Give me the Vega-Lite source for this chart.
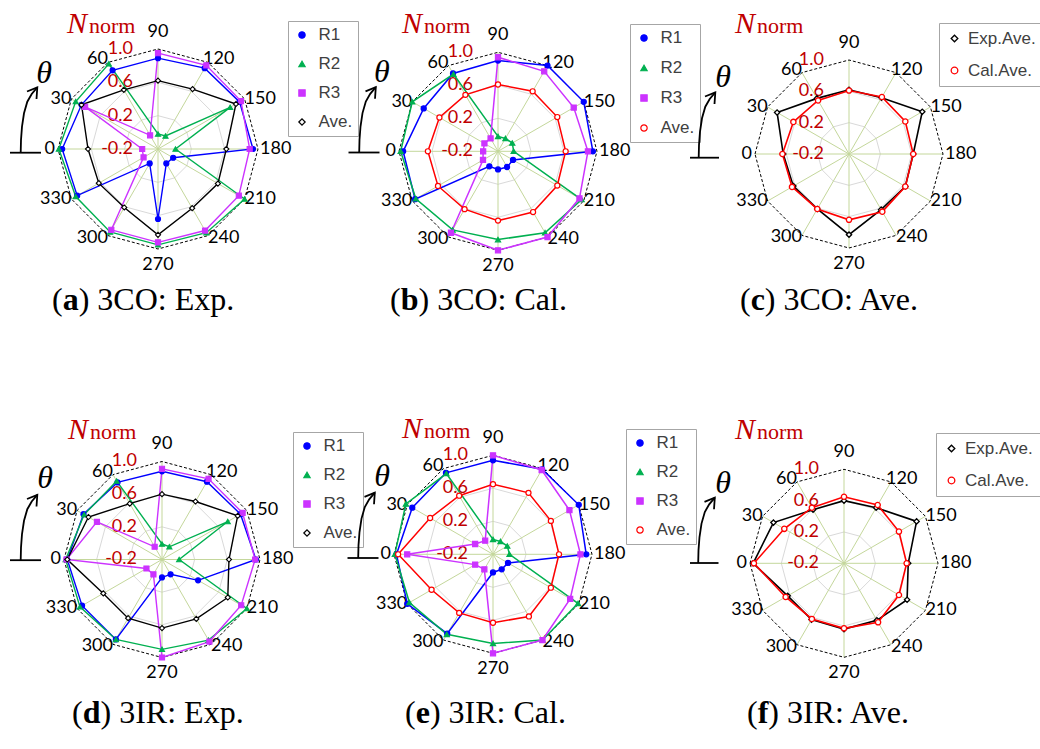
{
"$schema":"https://vega.github.io/schema/vega-lite/v6.json",
"padding":0,
"background":"white",
"config":{"view":{"stroke":null},"legend":{"symbolOpacity":1}},
"datasets":{
"ring":[{"a":0,"v":0.2},{"a":30,"v":0.2},{"a":60,"v":0.2},{"a":90,"v":0.2},{"a":120,"v":0.2},{"a":150,"v":0.2},{"a":180,"v":0.2},{"a":210,"v":0.2},{"a":240,"v":0.2},{"a":270,"v":0.2},{"a":300,"v":0.2},{"a":330,"v":0.2},
{"a":0,"v":0.6},{"a":30,"v":0.6},{"a":60,"v":0.6},{"a":90,"v":0.6},{"a":120,"v":0.6},{"a":150,"v":0.6},{"a":180,"v":0.6},{"a":210,"v":0.6},{"a":240,"v":0.6},{"a":270,"v":0.6},{"a":300,"v":0.6},{"a":330,"v":0.6},
{"a":0,"v":1},{"a":30,"v":1},{"a":60,"v":1},{"a":90,"v":1},{"a":120,"v":1},{"a":150,"v":1},{"a":180,"v":1},{"a":210,"v":1},{"a":240,"v":1},{"a":270,"v":1},{"a":300,"v":1},{"a":330,"v":1}],
"rl":[{"v":-0.2,"t":"-0.2"},{"v":0.2,"t":"0.2"},{"v":0.6,"t":"0.6"},{"v":1.0,"t":"1.0"}],
"arw":[{"g":"b","o":0,"px":-148,"py":-3.7},{"g":"b","o":1,"px":-117,"py":-3.7},
{"g":"c","o":0,"px":-137.3,"py":-3.7},{"g":"c","o":1,"px":-137,"py":9},{"g":"c","o":2,"px":-136,"py":22.3},{"g":"c","o":3,"px":-134,"py":35.7},{"g":"c","o":4,"px":-130.7,"py":47.3},{"g":"c","o":5,"px":-126.3,"py":55},{"g":"c","o":6,"px":-120.7,"py":61.7},
{"g":"h","o":0,"px":-131,"py":57.5},{"g":"h","o":1,"px":-120.7,"py":61.7},{"g":"h","o":2,"px":-121.5,"py":50}],
"pa":[
{"a":0,"s":"R1","v":0.95},{"a":30,"s":"R1","v":0.86},{"a":60,"s":"R1","v":0.89},{"a":90,"s":"R1","v":0.89},{"a":120,"s":"R1","v":0.92},{"a":150,"s":"R1","v":0.93},{"a":180,"s":"R1","v":0.94},{"a":210,"s":"R1","v":0.01},{"a":240,"s":"R1","v":0.0},{"a":270,"s":"R1","v":0.64},{"a":300,"s":"R1","v":0.0},{"a":330,"s":"R1","v":0.92},
{"a":0,"s":"R2","v":0.99},{"a":30,"s":"R2","v":0.94},{"a":60,"s":"R2","v":0.98},{"a":90,"s":"R2","v":-0.02},{"a":120,"s":"R2","v":-0.02},{"a":150,"s":"R2","v":0.80},{"a":180,"s":"R2","v":0.01},{"a":210,"s":"R2","v":1.0},{"a":240,"s":"R2","v":0.96},{"a":270,"s":"R2","v":0.95},{"a":300,"s":"R2","v":0.95},{"a":330,"s":"R2","v":0.94},
{"a":0,"s":"R3","v":-0.01},{"a":30,"s":"R3","v":0.81},{"a":60,"s":"R3","v":-0.01},{"a":90,"s":"R3","v":0.95},{"a":120,"s":"R3","v":0.96},{"a":150,"s":"R3","v":0.95},{"a":180,"s":"R3","v":0.90},{"a":210,"s":"R3","v":0.92},{"a":240,"s":"R3","v":0.93},{"a":270,"s":"R3","v":0.92},{"a":300,"s":"R3","v":0.92},{"a":330,"s":"R3","v":0.0},
{"a":0,"s":"Ave.","v":0.64},{"a":30,"s":"Ave.","v":0.86},{"a":60,"s":"Ave.","v":0.62},{"a":90,"s":"Ave.","v":0.62},{"a":120,"s":"Ave.","v":0.63},{"a":150,"s":"Ave.","v":0.88},{"a":180,"s":"Ave.","v":0.62},{"a":210,"s":"Ave.","v":0.63},{"a":240,"s":"Ave.","v":0.62},{"a":270,"s":"Ave.","v":0.83},{"a":300,"s":"Ave.","v":0.61},{"a":330,"s":"Ave.","v":0.62}],
"pb":[
{"a":0,"s":"R1","v":0.95},{"a":30,"s":"R1","v":0.84},{"a":60,"s":"R1","v":0.89},{"a":90,"s":"R1","v":0.90},{"a":120,"s":"R1","v":1.0},{"a":150,"s":"R1","v":1.0},{"a":180,"s":"R1","v":0.95},{"a":210,"s":"R1","v":0.01},{"a":240,"s":"R1","v":0.02},{"a":270,"s":"R1","v":0.02},{"a":300,"s":"R1","v":0.01},{"a":330,"s":"R1","v":0.96},
{"a":0,"s":"R2","v":0.98},{"a":30,"s":"R2","v":1.0},{"a":60,"s":"R2","v":0.88},{"a":90,"s":"R2","v":-0.02},{"a":120,"s":"R2","v":-0.02},{"a":150,"s":"R2","v":0.0},{"a":180,"s":"R2","v":-0.01},{"a":210,"s":"R2","v":0.97},{"a":240,"s":"R2","v":0.94},{"a":270,"s":"R2","v":0.87},{"a":300,"s":"R2","v":0.90},{"a":330,"s":"R2","v":0.95},
{"a":0,"s":"R3","v":-0.02},{"a":30,"s":"R3","v":-0.01},{"a":60,"s":"R3","v":-0.02},{"a":90,"s":"R3","v":0.94},{"a":120,"s":"R3","v":0.92},{"a":150,"s":"R3","v":0.86},{"a":180,"s":"R3","v":0.89},{"a":210,"s":"R3","v":0.94},{"a":240,"s":"R3","v":1.0},{"a":270,"s":"R3","v":1.0},{"a":300,"s":"R3","v":0.94},{"a":330,"s":"R3","v":0.01},
{"a":0,"s":"Ave.","v":0.65},{"a":30,"s":"Ave.","v":0.62},{"a":60,"s":"Ave.","v":0.59},{"a":90,"s":"Ave.","v":0.61},{"a":120,"s":"Ave.","v":0.64},{"a":150,"s":"Ave.","v":0.63},{"a":180,"s":"Ave.","v":0.62},{"a":210,"s":"Ave.","v":0.63},{"a":240,"s":"Ave.","v":0.65},{"a":270,"s":"Ave.","v":0.64},{"a":300,"s":"Ave.","v":0.61},{"a":330,"s":"Ave.","v":0.64}],
"pc":[
{"a":0,"s":"Exp.Ave.","v":0.64},{"a":30,"s":"Exp.Ave.","v":0.86},{"a":60,"s":"Exp.Ave.","v":0.62},{"a":90,"s":"Exp.Ave.","v":0.62},{"a":120,"s":"Exp.Ave.","v":0.63},{"a":150,"s":"Exp.Ave.","v":0.88},{"a":180,"s":"Exp.Ave.","v":0.62},{"a":210,"s":"Exp.Ave.","v":0.63},{"a":240,"s":"Exp.Ave.","v":0.62},{"a":270,"s":"Exp.Ave.","v":0.83},{"a":300,"s":"Exp.Ave.","v":0.61},{"a":330,"s":"Exp.Ave.","v":0.62},
{"a":0,"s":"Cal.Ave.","v":0.65},{"a":30,"s":"Cal.Ave.","v":0.62},{"a":60,"s":"Cal.Ave.","v":0.59},{"a":90,"s":"Cal.Ave.","v":0.61},{"a":120,"s":"Cal.Ave.","v":0.64},{"a":150,"s":"Cal.Ave.","v":0.63},{"a":180,"s":"Cal.Ave.","v":0.62},{"a":210,"s":"Cal.Ave.","v":0.63},{"a":240,"s":"Cal.Ave.","v":0.65},{"a":270,"s":"Cal.Ave.","v":0.64},{"a":300,"s":"Cal.Ave.","v":0.61},{"a":330,"s":"Cal.Ave.","v":0.64}],
"pd":[
{"a":0,"s":"R1","v":0.96},{"a":30,"s":"R1","v":0.91},{"a":60,"s":"R1","v":0.89},{"a":90,"s":"R1","v":0.88},{"a":120,"s":"R1","v":0.90},{"a":150,"s":"R1","v":0.91},{"a":180,"s":"R1","v":0.95},{"a":210,"s":"R1","v":0.31},{"a":240,"s":"R1","v":0.01},{"a":270,"s":"R1","v":0.02},{"a":300,"s":"R1","v":0.93},{"a":330,"s":"R1","v":0.93},
{"a":0,"s":"R2","v":0.98},{"a":30,"s":"R2","v":0.90},{"a":60,"s":"R2","v":0.91},{"a":90,"s":"R2","v":-0.01},{"a":120,"s":"R2","v":-0.02},{"a":150,"s":"R2","v":0.73},{"a":180,"s":"R2","v":0.01},{"a":210,"s":"R2","v":1.0},{"a":240,"s":"R2","v":0.94},{"a":270,"s":"R2","v":0.90},{"a":300,"s":"R2","v":0.93},{"a":330,"s":"R2","v":0.96},
{"a":0,"s":"R3","v":0.97},{"a":30,"s":"R3","v":0.72},{"a":60,"s":"R3","v":-0.02},{"a":90,"s":"R3","v":0.91},{"a":120,"s":"R3","v":0.94},{"a":150,"s":"R3","v":0.94},{"a":180,"s":"R3","v":0.94},{"a":210,"s":"R3","v":0.92},{"a":240,"s":"R3","v":0.96},{"a":270,"s":"R3","v":1.0},{"a":300,"s":"R3","v":0.01},{"a":330,"s":"R3","v":0.02},
{"a":0,"s":"Ave.","v":0.96},{"a":30,"s":"Ave.","v":0.84},{"a":60,"s":"Ave.","v":0.59},{"a":90,"s":"Ave.","v":0.60},{"a":120,"s":"Ave.","v":0.62},{"a":150,"s":"Ave.","v":0.87},{"a":180,"s":"Ave.","v":0.62},{"a":210,"s":"Ave.","v":0.73},{"a":240,"s":"Ave.","v":0.64},{"a":270,"s":"Ave.","v":0.64},{"a":300,"s":"Ave.","v":0.63},{"a":330,"s":"Ave.","v":0.63}],
"pe":[
{"a":0,"s":"R1","v":0.97},{"a":30,"s":"R1","v":0.93},{"a":60,"s":"R1","v":0.94},{"a":90,"s":"R1","v":0.94},{"a":120,"s":"R1","v":0.99},{"a":150,"s":"R1","v":1.0},{"a":180,"s":"R1","v":0.93},{"a":210,"s":"R1","v":0.01},{"a":240,"s":"R1","v":0.01},{"a":270,"s":"R1","v":0.02},{"a":300,"s":"R1","v":0.91},{"a":330,"s":"R1","v":1.0},
{"a":0,"s":"R2","v":0.99},{"a":30,"s":"R2","v":1.02},{"a":60,"s":"R2","v":0.93},{"a":90,"s":"R2","v":-0.02},{"a":120,"s":"R2","v":-0.02},{"a":150,"s":"R2","v":0.0},{"a":180,"s":"R2","v":0.0},{"a":210,"s":"R2","v":0.99},{"a":240,"s":"R2","v":1.0},{"a":270,"s":"R2","v":0.88},{"a":300,"s":"R2","v":0.92},{"a":330,"s":"R2","v":0.97},
{"a":0,"s":"R3","v":0.84},{"a":30,"s":"R3","v":0.05},{"a":60,"s":"R3","v":-0.01},{"a":90,"s":"R3","v":1.0},{"a":120,"s":"R3","v":0.98},{"a":150,"s":"R3","v":0.87},{"a":180,"s":"R3","v":0.86},{"a":210,"s":"R3","v":0.88},{"a":240,"s":"R3","v":1.0},{"a":270,"s":"R3","v":1.0},{"a":300,"s":"R3","v":0.01},{"a":330,"s":"R3","v":0.05},
{"a":0,"s":"Ave.","v":0.95},{"a":30,"s":"Ave.","v":0.68},{"a":60,"s":"Ave.","v":0.62},{"a":90,"s":"Ave.","v":0.65},{"a":120,"s":"Ave.","v":0.66},{"a":150,"s":"Ave.","v":0.61},{"a":180,"s":"Ave.","v":0.60},{"a":210,"s":"Ave.","v":0.61},{"a":240,"s":"Ave.","v":0.67},{"a":270,"s":"Ave.","v":0.63},{"a":300,"s":"Ave.","v":0.62},{"a":330,"s":"Ave.","v":0.66}],
"pf":[
{"a":0,"s":"Exp.Ave.","v":0.96},{"a":30,"s":"Exp.Ave.","v":0.84},{"a":60,"s":"Exp.Ave.","v":0.59},{"a":90,"s":"Exp.Ave.","v":0.60},{"a":120,"s":"Exp.Ave.","v":0.62},{"a":150,"s":"Exp.Ave.","v":0.87},{"a":180,"s":"Exp.Ave.","v":0.62},{"a":210,"s":"Exp.Ave.","v":0.73},{"a":240,"s":"Exp.Ave.","v":0.64},{"a":270,"s":"Exp.Ave.","v":0.64},{"a":300,"s":"Exp.Ave.","v":0.63},{"a":330,"s":"Exp.Ave.","v":0.63},
{"a":0,"s":"Cal.Ave.","v":0.95},{"a":30,"s":"Cal.Ave.","v":0.68},{"a":60,"s":"Cal.Ave.","v":0.62},{"a":90,"s":"Cal.Ave.","v":0.65},{"a":120,"s":"Cal.Ave.","v":0.66},{"a":150,"s":"Cal.Ave.","v":0.61},{"a":180,"s":"Cal.Ave.","v":0.60},{"a":210,"s":"Cal.Ave.","v":0.61},{"a":240,"s":"Cal.Ave.","v":0.67},{"a":270,"s":"Cal.Ave.","v":0.63},{"a":300,"s":"Cal.Ave.","v":0.62},{"a":330,"s":"Cal.Ave.","v":0.66}]
},
"spacing":0,
"resolve":{"scale":{"stroke":"independent","fill":"independent","shape":"independent","color":"independent"},"legend":{"stroke":"independent","fill":"independent","shape":"independent","color":"independent"}},
"vconcat":[
{"hconcat":[
{"width":340,"height":410,
"encoding":{"x":{"field":"x","type":"quantitative","scale":{"domain":[-1.58,1.82],"nice":false,"zero":false},"axis":null},"y":{"field":"y","type":"quantitative","scale":{"domain":[-2.61,1.49],"nice":false,"zero":false},"axis":null}},
"layer":[
{"data":{"name":"ring"},"transform":[{"filter":"datum.v<1"},{"calculate":"(datum.v+0.2)/1.2","as":"r"},{"calculate":"-datum.r*cos(datum.a*PI/180)","as":"x"},{"calculate":"datum.r*sin(datum.a*PI/180)","as":"y"}],"mark":{"type":"line","interpolate":"linear-closed","stroke":"#d9d9d9","strokeWidth":1},"encoding":{"detail":{"field":"v","type":"nominal"},"order":{"field":"a","type":"quantitative"}}},
{"data":{"name":"ring"},"transform":[{"filter":"datum.v==1"},{"calculate":"-cos(datum.a*PI/180)","as":"x"},{"calculate":"sin(datum.a*PI/180)","as":"y"}],"mark":{"type":"rule","stroke":"#c4d79b","strokeWidth":1},"encoding":{"x2":{"datum":0},"y2":{"datum":0}}},
{"data":{"name":"ring"},"transform":[{"filter":"datum.v==1"},{"calculate":"-cos(datum.a*PI/180)","as":"x"},{"calculate":"sin(datum.a*PI/180)","as":"y"}],"mark":{"type":"line","interpolate":"linear-closed","stroke":"#000000","strokeWidth":1,"strokeDash":[3,2]},"encoding":{"order":{"field":"a","type":"quantitative"}}},
{"data":{"name":"ring"},"transform":[{"filter":"datum.v==1"},{"calculate":"-cos(datum.a*PI/180)","as":"x"},{"calculate":"sin(datum.a*PI/180)","as":"y"}],"mark":{"type":"text","font":"Lato","fontSize":18,"color":"#000000","baseline":"middle","align":{"expr":"datum.a==90||datum.a==270?'center':(datum.a<90||datum.a>270?'right':'left')"},"dx":{"expr":"datum.a==0?-3:datum.a==120?-5:datum.a==180?2:0"},"dy":{"expr":"datum.a==90?-17:datum.a==270?16:(datum.a==60||datum.a==120)?-3:(datum.a==240||datum.a==300)?2:0"}},"encoding":{"text":{"field":"a","type":"nominal"}}},
{"data":{"name":"rl"},"transform":[{"calculate":"(datum.v+0.2)/1.2","as":"y"},{"calculate":"0","as":"x"}],"mark":{"type":"text","font":"Lato","fontSize":18,"color":"#c00000","align":"right","baseline":"middle","dx":-25},"encoding":{"text":{"field":"t","type":"nominal"}}},
{"data":{"name":"pa"},"transform":[{"calculate":"(datum.v+0.2)/1.2","as":"r"},{"calculate":"-datum.r*cos(datum.a*PI/180)","as":"x"},{"calculate":"datum.r*sin(datum.a*PI/180)","as":"y"}],"mark":{"type":"line","interpolate":"linear-closed","strokeWidth":1.4},"encoding":{"color":{"field":"s","type":"nominal","scale":{"range":["#000000","#0000ff","#00b050","#cc33ff"]},"legend":null},"order":{"field":"a","type":"quantitative"}}},
{"data":{"name":"pa"},"transform":[{"calculate":"(datum.v+0.2)/1.2","as":"r"},{"calculate":"-datum.r*cos(datum.a*PI/180)","as":"x"},{"calculate":"datum.r*sin(datum.a*PI/180)","as":"y"}],"mark":{"type":"point","opacity":1,"size":26,"strokeWidth":1.1},"encoding":{
"stroke":{"field":"s","type":"nominal","scale":{"domain":["R1","R2","R3","Ave."],"range":["#0000ff","#00b050","#cc33ff","#000000"]},"legend":{"orient":"none","legendX":288,"legendY":21,"direction":"vertical","title":null,"padding":5.5,"rowPadding":11,"symbolSize":40,"symbolStrokeWidth":1.2,"labelFont":"Liberation Sans","labelFontSize":17,"labelColor":"#404040","labelOffset":8,"strokeColor":"#a6a6a6","fillColor":"#ffffff","symbolOpacity":1}},
"fill":{"field":"s","type":"nominal","scale":{"domain":["R1","R2","R3","Ave."],"range":["#0000ff","#00b050","#cc33ff","#ffffff"]},"legend":{"orient":"none","legendX":288,"legendY":21,"direction":"vertical","title":null,"padding":5.5,"rowPadding":11,"symbolSize":40,"symbolStrokeWidth":1.2,"labelFont":"Liberation Sans","labelFontSize":17,"labelColor":"#404040","labelOffset":8,"strokeColor":"#a6a6a6","fillColor":"#ffffff","symbolOpacity":1}},
"shape":{"field":"s","type":"nominal","scale":{"domain":["R1","R2","R3","Ave."],"range":["circle","triangle-up","square","diamond"]},"legend":{"orient":"none","legendX":288,"legendY":21,"direction":"vertical","title":null,"padding":5.5,"rowPadding":11,"symbolSize":40,"symbolStrokeWidth":1.2,"labelFont":"Liberation Sans","labelFontSize":17,"labelColor":"#404040","labelOffset":8,"strokeColor":"#a6a6a6","fillColor":"#ffffff","symbolOpacity":1}}}},
{"data":{"values":[{}]},"transform":[{"calculate":"-0.91","as":"x"},{"calculate":"1.16","as":"y"}],"mark":{"type":"text","text":"N","font":"Liberation Serif","fontStyle":"italic","fontSize":30,"color":"#c00000","align":"left","baseline":"alphabetic"}},
{"data":{"values":[{}]},"transform":[{"calculate":"-0.91","as":"x"},{"calculate":"1.16","as":"y"}],"mark":{"type":"text","text":"norm","font":"Liberation Serif","fontSize":22,"color":"#c00000","align":"left","baseline":"alphabetic","dx":22}},
{"data":{"values":[{}]},"transform":[{"calculate":"-1.14","as":"x"},{"calculate":"0.76","as":"y"}],"mark":{"type":"text","text":"θ","font":"Liberation Serif","fontStyle":"italic","fontSize":32,"color":"#000000","align":"center","baseline":"middle"}},
{"data":{"name":"arw"},"transform":[{"calculate":"datum.px/100","as":"x"},{"calculate":"datum.py/100","as":"y"}],"mark":{"type":"line","stroke":"#000000","strokeWidth":1.8,"clip":true},"encoding":{"detail":{"field":"g","type":"nominal"},"order":{"field":"o","type":"quantitative"}}},
{"data":{"values":[{}]},"transform":[{"calculate":"-1.06","as":"x"},{"calculate":"-1.51","as":"y"}],"mark":{"type":"text","text":"(","font":"Liberation Serif","fontSize":32,"color":"#000000","align":"left","baseline":"middle"}},
{"data":{"values":[{}]},"transform":[{"calculate":"-1.06","as":"x"},{"calculate":"-1.51","as":"y"}],"mark":{"type":"text","text":"a","font":"Liberation Serif","fontWeight":"bold","fontSize":32,"color":"#000000","align":"left","baseline":"middle","dx":10.7}},
{"data":{"values":[{}]},"transform":[{"calculate":"-1.06","as":"x"},{"calculate":"-1.51","as":"y"}],"mark":{"type":"text","text":") 3CO: Exp.","font":"Liberation Serif","fontSize":32,"color":"#000000","align":"left","baseline":"middle","dx":26.7}}
]},
{"width":350,"height":410,
"encoding":{"x":{"field":"x","type":"quantitative","scale":{"domain":[-1.596,1.9394],"nice":false,"zero":false},"axis":null},"y":{"field":"y","type":"quantitative","scale":{"domain":[-2.6131,1.5283],"nice":false,"zero":false},"axis":null}},
"layer":[
{"data":{"name":"ring"},"transform":[{"filter":"datum.v<1"},{"calculate":"(datum.v+0.2)/1.2","as":"r"},{"calculate":"-datum.r*cos(datum.a*PI/180)","as":"x"},{"calculate":"datum.r*sin(datum.a*PI/180)","as":"y"}],"mark":{"type":"line","interpolate":"linear-closed","stroke":"#d9d9d9","strokeWidth":1},"encoding":{"detail":{"field":"v","type":"nominal"},"order":{"field":"a","type":"quantitative"}}},
{"data":{"name":"ring"},"transform":[{"filter":"datum.v==1"},{"calculate":"-cos(datum.a*PI/180)","as":"x"},{"calculate":"sin(datum.a*PI/180)","as":"y"}],"mark":{"type":"rule","stroke":"#c4d79b","strokeWidth":1},"encoding":{"x2":{"datum":0},"y2":{"datum":0}}},
{"data":{"name":"ring"},"transform":[{"filter":"datum.v==1"},{"calculate":"-cos(datum.a*PI/180)","as":"x"},{"calculate":"sin(datum.a*PI/180)","as":"y"}],"mark":{"type":"line","interpolate":"linear-closed","stroke":"#000000","strokeWidth":1,"strokeDash":[3,2]},"encoding":{"order":{"field":"a","type":"quantitative"}}},
{"data":{"name":"ring"},"transform":[{"filter":"datum.v==1"},{"calculate":"-cos(datum.a*PI/180)","as":"x"},{"calculate":"sin(datum.a*PI/180)","as":"y"}],"mark":{"type":"text","font":"Lato","fontSize":18,"color":"#000000","baseline":"middle","align":{"expr":"datum.a==90||datum.a==270?'center':(datum.a<90||datum.a>270?'right':'left')"},"dx":{"expr":"datum.a==0?-3:datum.a==120?-5:datum.a==180?2:0"},"dy":{"expr":"datum.a==90?-17:datum.a==270?16:(datum.a==60||datum.a==120)?-3:(datum.a==240||datum.a==300)?2:0"}},"encoding":{"text":{"field":"a","type":"nominal"}}},
{"data":{"name":"rl"},"transform":[{"calculate":"(datum.v+0.2)/1.2","as":"y"},{"calculate":"0","as":"x"}],"mark":{"type":"text","font":"Lato","fontSize":18,"color":"#c00000","align":"right","baseline":"middle","dx":-25},"encoding":{"text":{"field":"t","type":"nominal"}}},
{"data":{"name":"pb"},"transform":[{"calculate":"(datum.v+0.2)/1.2","as":"r"},{"calculate":"-datum.r*cos(datum.a*PI/180)","as":"x"},{"calculate":"datum.r*sin(datum.a*PI/180)","as":"y"}],"mark":{"type":"line","interpolate":"linear-closed","strokeWidth":1.5},"encoding":{"color":{"field":"s","type":"nominal","scale":{"range":["#ff0000","#0000ff","#00b050","#cc33ff"]},"legend":null},"order":{"field":"a","type":"quantitative"}}},
{"data":{"name":"pb"},"transform":[{"calculate":"(datum.v+0.2)/1.2","as":"r"},{"calculate":"-datum.r*cos(datum.a*PI/180)","as":"x"},{"calculate":"datum.r*sin(datum.a*PI/180)","as":"y"}],"mark":{"type":"point","opacity":1,"size":26,"strokeWidth":1.2},"encoding":{
"stroke":{"field":"s","type":"nominal","scale":{"domain":["R1","R2","R3","Ave."],"range":["#0000ff","#00b050","#cc33ff","#ff0000"]},"legend":{"orient":"none","legendX":290,"legendY":24,"direction":"vertical","title":null,"padding":5.5,"rowPadding":12,"symbolSize":40,"symbolStrokeWidth":1.2,"labelFont":"Liberation Sans","labelFontSize":17,"labelColor":"#404040","labelOffset":8,"strokeColor":"#a6a6a6","fillColor":"#ffffff","symbolOpacity":1}},
"fill":{"field":"s","type":"nominal","scale":{"domain":["R1","R2","R3","Ave."],"range":["#0000ff","#00b050","#cc33ff","#ffffff"]},"legend":{"orient":"none","legendX":290,"legendY":24,"direction":"vertical","title":null,"padding":5.5,"rowPadding":12,"symbolSize":40,"symbolStrokeWidth":1.2,"labelFont":"Liberation Sans","labelFontSize":17,"labelColor":"#404040","labelOffset":8,"strokeColor":"#a6a6a6","fillColor":"#ffffff","symbolOpacity":1}},
"shape":{"field":"s","type":"nominal","scale":{"domain":["R1","R2","R3","Ave."],"range":["circle","triangle-up","square","circle"]},"legend":{"orient":"none","legendX":290,"legendY":24,"direction":"vertical","title":null,"padding":5.5,"rowPadding":12,"symbolSize":40,"symbolStrokeWidth":1.2,"labelFont":"Liberation Sans","labelFontSize":17,"labelColor":"#404040","labelOffset":8,"strokeColor":"#a6a6a6","fillColor":"#ffffff","symbolOpacity":1}}}},
{"data":{"values":[{}]},"transform":[{"calculate":"-0.97","as":"x"},{"calculate":"1.195","as":"y"}],"mark":{"type":"text","text":"N","font":"Liberation Serif","fontStyle":"italic","fontSize":30,"color":"#c00000","align":"left","baseline":"alphabetic"}},
{"data":{"values":[{}]},"transform":[{"calculate":"-0.97","as":"x"},{"calculate":"1.195","as":"y"}],"mark":{"type":"text","text":"norm","font":"Liberation Serif","fontSize":22,"color":"#c00000","align":"left","baseline":"alphabetic","dx":22}},
{"data":{"values":[{}]},"transform":[{"calculate":"-1.172","as":"x"},{"calculate":"0.801","as":"y"}],"mark":{"type":"text","text":"θ","font":"Liberation Serif","fontStyle":"italic","fontSize":32,"color":"#000000","align":"center","baseline":"middle"}},
{"data":{"name":"arw"},"transform":[{"calculate":"(datum.px-1.5)/99","as":"x"},{"calculate":"(datum.py+2.5)/99","as":"y"}],"mark":{"type":"line","stroke":"#000000","strokeWidth":1.8,"clip":true},"encoding":{"detail":{"field":"g","type":"nominal"},"order":{"field":"o","type":"quantitative"}}},
{"data":{"values":[{}]},"transform":[{"calculate":"-1.091","as":"x"},{"calculate":"-1.502","as":"y"}],"mark":{"type":"text","text":"(","font":"Liberation Serif","fontSize":32,"color":"#000000","align":"left","baseline":"middle"}},
{"data":{"values":[{}]},"transform":[{"calculate":"-1.091","as":"x"},{"calculate":"-1.502","as":"y"}],"mark":{"type":"text","text":"b","font":"Liberation Serif","fontWeight":"bold","fontSize":32,"color":"#000000","align":"left","baseline":"middle","dx":10.7}},
{"data":{"values":[{}]},"transform":[{"calculate":"-1.091","as":"x"},{"calculate":"-1.502","as":"y"}],"mark":{"type":"text","text":") 3CO: Cal.","font":"Liberation Serif","fontSize":32,"color":"#000000","align":"left","baseline":"middle","dx":28.5}}
]},
{"width":350,"height":410,
"encoding":{"x":{"field":"x","type":"quantitative","scale":{"domain":[-1.6915,2.0319],"nice":false,"zero":false},"axis":null},"y":{"field":"y","type":"quantitative","scale":{"domain":[-2.7234,1.6383],"nice":false,"zero":false},"axis":null}},
"layer":[
{"data":{"name":"ring"},"transform":[{"filter":"datum.v<1"},{"calculate":"(datum.v+0.2)/1.2","as":"r"},{"calculate":"-datum.r*cos(datum.a*PI/180)","as":"x"},{"calculate":"datum.r*sin(datum.a*PI/180)","as":"y"}],"mark":{"type":"line","interpolate":"linear-closed","stroke":"#d9d9d9","strokeWidth":1},"encoding":{"detail":{"field":"v","type":"nominal"},"order":{"field":"a","type":"quantitative"}}},
{"data":{"name":"ring"},"transform":[{"filter":"datum.v==1"},{"calculate":"-cos(datum.a*PI/180)","as":"x"},{"calculate":"sin(datum.a*PI/180)","as":"y"}],"mark":{"type":"rule","stroke":"#c4d79b","strokeWidth":1},"encoding":{"x2":{"datum":0},"y2":{"datum":0}}},
{"data":{"name":"ring"},"transform":[{"filter":"datum.v==1"},{"calculate":"-cos(datum.a*PI/180)","as":"x"},{"calculate":"sin(datum.a*PI/180)","as":"y"}],"mark":{"type":"line","interpolate":"linear-closed","stroke":"#000000","strokeWidth":1,"strokeDash":[3,2]},"encoding":{"order":{"field":"a","type":"quantitative"}}},
{"data":{"name":"ring"},"transform":[{"filter":"datum.v==1"},{"calculate":"-cos(datum.a*PI/180)","as":"x"},{"calculate":"sin(datum.a*PI/180)","as":"y"}],"mark":{"type":"text","font":"Lato","fontSize":18,"color":"#000000","baseline":"middle","align":{"expr":"datum.a==90||datum.a==270?'center':(datum.a<90||datum.a>270?'right':'left')"},"dx":{"expr":"datum.a==0?-3:datum.a==120?-5:datum.a==180?2:0"},"dy":{"expr":"datum.a==90?-17:datum.a==270?16:(datum.a==60||datum.a==120)?-3:(datum.a==240||datum.a==300)?2:0"}},"encoding":{"text":{"field":"a","type":"nominal"}}},
{"data":{"name":"rl"},"transform":[{"calculate":"(datum.v+0.2)/1.2","as":"y"},{"calculate":"0","as":"x"}],"mark":{"type":"text","font":"Lato","fontSize":18,"color":"#c00000","align":"right","baseline":"middle","dx":-25},"encoding":{"text":{"field":"t","type":"nominal"}}},
{"data":{"name":"pc"},"transform":[{"calculate":"(datum.v+0.2)/1.2","as":"r"},{"calculate":"-datum.r*cos(datum.a*PI/180)","as":"x"},{"calculate":"datum.r*sin(datum.a*PI/180)","as":"y"}],"mark":{"type":"line","interpolate":"linear-closed","strokeWidth":1.6},"encoding":{"color":{"field":"s","type":"nominal","scale":{"range":["#ff0000","#000000"]},"legend":null},"order":{"field":"a","type":"quantitative"}}},
{"data":{"name":"pc"},"transform":[{"calculate":"(datum.v+0.2)/1.2","as":"r"},{"calculate":"-datum.r*cos(datum.a*PI/180)","as":"x"},{"calculate":"datum.r*sin(datum.a*PI/180)","as":"y"}],"mark":{"type":"point","opacity":1,"size":28,"strokeWidth":1.3},"encoding":{
"stroke":{"field":"s","type":"nominal","scale":{"domain":["Exp.Ave.","Cal.Ave."],"range":["#000000","#ff0000"]},"legend":{"orient":"none","legendX":249,"legendY":23,"direction":"vertical","title":null,"padding":7,"rowPadding":14,"symbolSize":44,"symbolStrokeWidth":1.3,"labelFont":"Liberation Sans","labelFontSize":17,"labelColor":"#404040","labelOffset":5,"strokeColor":"#a6a6a6","fillColor":"#ffffff","symbolOpacity":1}},
"fill":{"field":"s","type":"nominal","scale":{"domain":["Exp.Ave.","Cal.Ave."],"range":["#ffffff","#ffffff"]},"legend":{"orient":"none","legendX":249,"legendY":23,"direction":"vertical","title":null,"padding":7,"rowPadding":14,"symbolSize":44,"symbolStrokeWidth":1.3,"labelFont":"Liberation Sans","labelFontSize":17,"labelColor":"#404040","labelOffset":5,"strokeColor":"#a6a6a6","fillColor":"#ffffff","symbolOpacity":1}},
"shape":{"field":"s","type":"nominal","scale":{"domain":["Exp.Ave.","Cal.Ave."],"range":["diamond","circle"]},"legend":{"orient":"none","legendX":249,"legendY":23,"direction":"vertical","title":null,"padding":7,"rowPadding":14,"symbolSize":44,"symbolStrokeWidth":1.3,"labelFont":"Liberation Sans","labelFontSize":17,"labelColor":"#404040","labelOffset":5,"strokeColor":"#a6a6a6","fillColor":"#ffffff","symbolOpacity":1}}}},
{"data":{"values":[{}]},"transform":[{"calculate":"-1.213","as":"x"},{"calculate":"1.287","as":"y"}],"mark":{"type":"text","text":"N","font":"Liberation Serif","fontStyle":"italic","fontSize":30,"color":"#c00000","align":"left","baseline":"alphabetic"}},
{"data":{"values":[{}]},"transform":[{"calculate":"-1.213","as":"x"},{"calculate":"1.287","as":"y"}],"mark":{"type":"text","text":"norm","font":"Liberation Serif","fontSize":22,"color":"#c00000","align":"left","baseline":"alphabetic","dx":22}},
{"data":{"values":[{}]},"transform":[{"calculate":"-1.34","as":"x"},{"calculate":"0.819","as":"y"}],"mark":{"type":"text","text":"θ","font":"Liberation Serif","fontStyle":"italic","fontSize":32,"color":"#000000","align":"center","baseline":"middle"}},
{"data":{"name":"arw"},"transform":[{"calculate":"(datum.px-13)/94","as":"x"},{"calculate":"(datum.py+0)/94","as":"y"}],"mark":{"type":"line","stroke":"#000000","strokeWidth":1.8,"clip":true},"encoding":{"detail":{"field":"g","type":"nominal"},"order":{"field":"o","type":"quantitative"}}},
{"data":{"values":[{}]},"transform":[{"calculate":"-1.16","as":"x"},{"calculate":"-1.553","as":"y"}],"mark":{"type":"text","text":"(","font":"Liberation Serif","fontSize":32,"color":"#000000","align":"left","baseline":"middle"}},
{"data":{"values":[{}]},"transform":[{"calculate":"-1.16","as":"x"},{"calculate":"-1.553","as":"y"}],"mark":{"type":"text","text":"c","font":"Liberation Serif","fontWeight":"bold","fontSize":32,"color":"#000000","align":"left","baseline":"middle","dx":10.7}},
{"data":{"values":[{}]},"transform":[{"calculate":"-1.16","as":"x"},{"calculate":"-1.553","as":"y"}],"mark":{"type":"text","text":") 3CO: Ave.","font":"Liberation Serif","fontSize":32,"color":"#000000","align":"left","baseline":"middle","dx":24.9}}
]}
],"spacing":0,"bounds":"flush","resolve":{"scale":{"stroke":"independent","fill":"independent","shape":"independent","color":"independent"},"legend":{"stroke":"independent","fill":"independent","shape":"independent","color":"independent"}}},
{"hconcat":[
{"width":340,"height":339,
"encoding":{"x":{"field":"x","type":"quantitative","scale":{"domain":[-1.6531,1.8163],"nice":false,"zero":false},"axis":null},"y":{"field":"y","type":"quantitative","scale":{"domain":[-1.9337,1.5255],"nice":false,"zero":false},"axis":null}},
"layer":[
{"data":{"name":"ring"},"transform":[{"filter":"datum.v<1"},{"calculate":"(datum.v+0.2)/1.2","as":"r"},{"calculate":"-datum.r*cos(datum.a*PI/180)","as":"x"},{"calculate":"datum.r*sin(datum.a*PI/180)","as":"y"}],"mark":{"type":"line","interpolate":"linear-closed","stroke":"#d9d9d9","strokeWidth":1},"encoding":{"detail":{"field":"v","type":"nominal"},"order":{"field":"a","type":"quantitative"}}},
{"data":{"name":"ring"},"transform":[{"filter":"datum.v==1"},{"calculate":"-cos(datum.a*PI/180)","as":"x"},{"calculate":"sin(datum.a*PI/180)","as":"y"}],"mark":{"type":"rule","stroke":"#c4d79b","strokeWidth":1},"encoding":{"x2":{"datum":0},"y2":{"datum":0}}},
{"data":{"name":"ring"},"transform":[{"filter":"datum.v==1"},{"calculate":"-cos(datum.a*PI/180)","as":"x"},{"calculate":"sin(datum.a*PI/180)","as":"y"}],"mark":{"type":"line","interpolate":"linear-closed","stroke":"#000000","strokeWidth":1,"strokeDash":[3,2]},"encoding":{"order":{"field":"a","type":"quantitative"}}},
{"data":{"name":"ring"},"transform":[{"filter":"datum.v==1"},{"calculate":"-cos(datum.a*PI/180)","as":"x"},{"calculate":"sin(datum.a*PI/180)","as":"y"}],"mark":{"type":"text","font":"Lato","fontSize":18,"color":"#000000","baseline":"middle","align":{"expr":"datum.a==90||datum.a==270?'center':(datum.a<90||datum.a>270?'right':'left')"},"dx":{"expr":"datum.a==0?-3:datum.a==120?-5:datum.a==180?2:0"},"dy":{"expr":"datum.a==90?-17:datum.a==270?16:(datum.a==60||datum.a==120)?-3:(datum.a==240||datum.a==300)?2:0"}},"encoding":{"text":{"field":"a","type":"nominal"}}},
{"data":{"name":"rl"},"transform":[{"calculate":"(datum.v+0.2)/1.2","as":"y"},{"calculate":"0","as":"x"}],"mark":{"type":"text","font":"Lato","fontSize":18,"color":"#c00000","align":"right","baseline":"middle","dx":-25},"encoding":{"text":{"field":"t","type":"nominal"}}},
{"data":{"name":"pd"},"transform":[{"calculate":"(datum.v+0.2)/1.2","as":"r"},{"calculate":"-datum.r*cos(datum.a*PI/180)","as":"x"},{"calculate":"datum.r*sin(datum.a*PI/180)","as":"y"}],"mark":{"type":"line","interpolate":"linear-closed","strokeWidth":1.4},"encoding":{"color":{"field":"s","type":"nominal","scale":{"range":["#000000","#0000ff","#00b050","#cc33ff"]},"legend":null},"order":{"field":"a","type":"quantitative"}}},
{"data":{"name":"pd"},"transform":[{"calculate":"(datum.v+0.2)/1.2","as":"r"},{"calculate":"-datum.r*cos(datum.a*PI/180)","as":"x"},{"calculate":"datum.r*sin(datum.a*PI/180)","as":"y"}],"mark":{"type":"point","opacity":1,"size":26,"strokeWidth":1.1},"encoding":{
"stroke":{"field":"s","type":"nominal","scale":{"domain":["R1","R2","R3","Ave."],"range":["#0000ff","#00b050","#cc33ff","#000000"]},"legend":{"orient":"none","legendX":293,"legendY":22,"direction":"vertical","title":null,"padding":5.5,"rowPadding":11,"symbolSize":40,"symbolStrokeWidth":1.2,"labelFont":"Liberation Sans","labelFontSize":17,"labelColor":"#404040","labelOffset":8,"strokeColor":"#a6a6a6","fillColor":"#ffffff","symbolOpacity":1}},
"fill":{"field":"s","type":"nominal","scale":{"domain":["R1","R2","R3","Ave."],"range":["#0000ff","#00b050","#cc33ff","#ffffff"]},"legend":{"orient":"none","legendX":293,"legendY":22,"direction":"vertical","title":null,"padding":5.5,"rowPadding":11,"symbolSize":40,"symbolStrokeWidth":1.2,"labelFont":"Liberation Sans","labelFontSize":17,"labelColor":"#404040","labelOffset":8,"strokeColor":"#a6a6a6","fillColor":"#ffffff","symbolOpacity":1}},
"shape":{"field":"s","type":"nominal","scale":{"domain":["R1","R2","R3","Ave."],"range":["circle","triangle-up","square","diamond"]},"legend":{"orient":"none","legendX":293,"legendY":22,"direction":"vertical","title":null,"padding":5.5,"rowPadding":11,"symbolSize":40,"symbolStrokeWidth":1.2,"labelFont":"Liberation Sans","labelFontSize":17,"labelColor":"#404040","labelOffset":8,"strokeColor":"#a6a6a6","fillColor":"#ffffff","symbolOpacity":1}}}},
{"data":{"values":[{}]},"transform":[{"calculate":"-0.959","as":"x"},{"calculate":"1.23","as":"y"}],"mark":{"type":"text","text":"N","font":"Liberation Serif","fontStyle":"italic","fontSize":30,"color":"#c00000","align":"left","baseline":"alphabetic"}},
{"data":{"values":[{}]},"transform":[{"calculate":"-0.959","as":"x"},{"calculate":"1.23","as":"y"}],"mark":{"type":"text","text":"norm","font":"Liberation Serif","fontSize":22,"color":"#c00000","align":"left","baseline":"alphabetic","dx":22}},
{"data":{"values":[{}]},"transform":[{"calculate":"-1.194","as":"x"},{"calculate":"0.832","as":"y"}],"mark":{"type":"text","text":"θ","font":"Liberation Serif","fontStyle":"italic","fontSize":32,"color":"#000000","align":"center","baseline":"middle"}},
{"data":{"name":"arw"},"transform":[{"calculate":"(datum.px-4)/98","as":"x"},{"calculate":"(datum.py+3)/98","as":"y"}],"mark":{"type":"line","stroke":"#000000","strokeWidth":1.8,"clip":true},"encoding":{"detail":{"field":"g","type":"nominal"},"order":{"field":"o","type":"quantitative"}}},
{"data":{"values":[{}]},"transform":[{"calculate":"-0.918","as":"x"},{"calculate":"-1.566","as":"y"}],"mark":{"type":"text","text":"(","font":"Liberation Serif","fontSize":32,"color":"#000000","align":"left","baseline":"middle"}},
{"data":{"values":[{}]},"transform":[{"calculate":"-0.918","as":"x"},{"calculate":"-1.566","as":"y"}],"mark":{"type":"text","text":"d","font":"Liberation Serif","fontWeight":"bold","fontSize":32,"color":"#000000","align":"left","baseline":"middle","dx":10.7}},
{"data":{"values":[{}]},"transform":[{"calculate":"-0.918","as":"x"},{"calculate":"-1.566","as":"y"}],"mark":{"type":"text","text":") 3IR: Exp.","font":"Liberation Serif","fontSize":32,"color":"#000000","align":"left","baseline":"middle","dx":28.5}}
]},
{"width":350,"height":339,
"encoding":{"x":{"field":"x","type":"quantitative","scale":{"domain":[-1.5455,1.9899],"nice":false,"zero":false},"axis":null},"y":{"field":"y","type":"quantitative","scale":{"domain":[-1.9667,1.4576],"nice":false,"zero":false},"axis":null}},
"layer":[
{"data":{"name":"ring"},"transform":[{"filter":"datum.v<1"},{"calculate":"(datum.v+0.2)/1.2","as":"r"},{"calculate":"-datum.r*cos(datum.a*PI/180)","as":"x"},{"calculate":"datum.r*sin(datum.a*PI/180)","as":"y"}],"mark":{"type":"line","interpolate":"linear-closed","stroke":"#d9d9d9","strokeWidth":1},"encoding":{"detail":{"field":"v","type":"nominal"},"order":{"field":"a","type":"quantitative"}}},
{"data":{"name":"ring"},"transform":[{"filter":"datum.v==1"},{"calculate":"-cos(datum.a*PI/180)","as":"x"},{"calculate":"sin(datum.a*PI/180)","as":"y"}],"mark":{"type":"rule","stroke":"#c4d79b","strokeWidth":1},"encoding":{"x2":{"datum":0},"y2":{"datum":0}}},
{"data":{"name":"ring"},"transform":[{"filter":"datum.v==1"},{"calculate":"-cos(datum.a*PI/180)","as":"x"},{"calculate":"sin(datum.a*PI/180)","as":"y"}],"mark":{"type":"line","interpolate":"linear-closed","stroke":"#000000","strokeWidth":1,"strokeDash":[3,2]},"encoding":{"order":{"field":"a","type":"quantitative"}}},
{"data":{"name":"ring"},"transform":[{"filter":"datum.v==1"},{"calculate":"-cos(datum.a*PI/180)","as":"x"},{"calculate":"sin(datum.a*PI/180)","as":"y"}],"mark":{"type":"text","font":"Lato","fontSize":18,"color":"#000000","baseline":"middle","align":{"expr":"datum.a==90||datum.a==270?'center':(datum.a<90||datum.a>270?'right':'left')"},"dx":{"expr":"datum.a==0?-3:datum.a==120?-5:datum.a==180?2:0"},"dy":{"expr":"datum.a==90?-17:datum.a==270?16:(datum.a==60||datum.a==120)?-3:(datum.a==240||datum.a==300)?2:0"}},"encoding":{"text":{"field":"a","type":"nominal"}}},
{"data":{"name":"rl"},"transform":[{"calculate":"(datum.v+0.2)/1.2","as":"y"},{"calculate":"0","as":"x"}],"mark":{"type":"text","font":"Lato","fontSize":18,"color":"#c00000","align":"right","baseline":"middle","dx":-25},"encoding":{"text":{"field":"t","type":"nominal"}}},
{"data":{"name":"pe"},"transform":[{"calculate":"(datum.v+0.2)/1.2","as":"r"},{"calculate":"-datum.r*cos(datum.a*PI/180)","as":"x"},{"calculate":"datum.r*sin(datum.a*PI/180)","as":"y"}],"mark":{"type":"line","interpolate":"linear-closed","strokeWidth":1.5},"encoding":{"color":{"field":"s","type":"nominal","scale":{"range":["#ff0000","#0000ff","#00b050","#cc33ff"]},"legend":null},"order":{"field":"a","type":"quantitative"}}},
{"data":{"name":"pe"},"transform":[{"calculate":"(datum.v+0.2)/1.2","as":"r"},{"calculate":"-datum.r*cos(datum.a*PI/180)","as":"x"},{"calculate":"datum.r*sin(datum.a*PI/180)","as":"y"}],"mark":{"type":"point","opacity":1,"size":26,"strokeWidth":1.2},"encoding":{
"stroke":{"field":"s","type":"nominal","scale":{"domain":["R1","R2","R3","Ave."],"range":["#0000ff","#00b050","#cc33ff","#ff0000"]},"legend":{"orient":"none","legendX":286,"legendY":19,"direction":"vertical","title":null,"padding":5.5,"rowPadding":11,"symbolSize":40,"symbolStrokeWidth":1.2,"labelFont":"Liberation Sans","labelFontSize":17,"labelColor":"#404040","labelOffset":8,"strokeColor":"#a6a6a6","fillColor":"#ffffff","symbolOpacity":1}},
"fill":{"field":"s","type":"nominal","scale":{"domain":["R1","R2","R3","Ave."],"range":["#0000ff","#00b050","#cc33ff","#ffffff"]},"legend":{"orient":"none","legendX":286,"legendY":19,"direction":"vertical","title":null,"padding":5.5,"rowPadding":11,"symbolSize":40,"symbolStrokeWidth":1.2,"labelFont":"Liberation Sans","labelFontSize":17,"labelColor":"#404040","labelOffset":8,"strokeColor":"#a6a6a6","fillColor":"#ffffff","symbolOpacity":1}},
"shape":{"field":"s","type":"nominal","scale":{"domain":["R1","R2","R3","Ave."],"range":["circle","triangle-up","square","circle"]},"legend":{"orient":"none","legendX":286,"legendY":19,"direction":"vertical","title":null,"padding":5.5,"rowPadding":11,"symbolSize":40,"symbolStrokeWidth":1.2,"labelFont":"Liberation Sans","labelFontSize":17,"labelColor":"#404040","labelOffset":8,"strokeColor":"#a6a6a6","fillColor":"#ffffff","symbolOpacity":1}}}},
{"data":{"values":[{}]},"transform":[{"calculate":"-0.919","as":"x"},{"calculate":"1.175","as":"y"}],"mark":{"type":"text","text":"N","font":"Liberation Serif","fontStyle":"italic","fontSize":30,"color":"#c00000","align":"left","baseline":"alphabetic"}},
{"data":{"values":[{}]},"transform":[{"calculate":"-0.919","as":"x"},{"calculate":"1.175","as":"y"}],"mark":{"type":"text","text":"norm","font":"Liberation Serif","fontSize":22,"color":"#c00000","align":"left","baseline":"alphabetic","dx":22}},
{"data":{"values":[{}]},"transform":[{"calculate":"-1.121","as":"x"},{"calculate":"0.791","as":"y"}],"mark":{"type":"text","text":"θ","font":"Liberation Serif","fontStyle":"italic","fontSize":32,"color":"#000000","align":"center","baseline":"middle"}},
{"data":{"name":"arw"},"transform":[{"calculate":"(datum.px+2.5)/99","as":"x"},{"calculate":"(datum.py+0)/99","as":"y"}],"mark":{"type":"line","stroke":"#000000","strokeWidth":1.8,"clip":true},"encoding":{"detail":{"field":"g","type":"nominal"},"order":{"field":"o","type":"quantitative"}}},
{"data":{"values":[{}]},"transform":[{"calculate":"-0.889","as":"x"},{"calculate":"-1.603","as":"y"}],"mark":{"type":"text","text":"(","font":"Liberation Serif","fontSize":32,"color":"#000000","align":"left","baseline":"middle"}},
{"data":{"values":[{}]},"transform":[{"calculate":"-0.889","as":"x"},{"calculate":"-1.603","as":"y"}],"mark":{"type":"text","text":"e","font":"Liberation Serif","fontWeight":"bold","fontSize":32,"color":"#000000","align":"left","baseline":"middle","dx":10.7}},
{"data":{"values":[{}]},"transform":[{"calculate":"-0.889","as":"x"},{"calculate":"-1.603","as":"y"}],"mark":{"type":"text","text":") 3IR: Cal.","font":"Liberation Serif","fontSize":32,"color":"#000000","align":"left","baseline":"middle","dx":24.9}}
]},
{"width":350,"height":339,
"encoding":{"x":{"field":"x","type":"quantitative","scale":{"domain":[-1.6383,2.0851],"nice":false,"zero":false},"axis":null},"y":{"field":"y","type":"quantitative","scale":{"domain":[-1.9755,1.6309],"nice":false,"zero":false},"axis":null}},
"layer":[
{"data":{"name":"ring"},"transform":[{"filter":"datum.v<1"},{"calculate":"(datum.v+0.2)/1.2","as":"r"},{"calculate":"-datum.r*cos(datum.a*PI/180)","as":"x"},{"calculate":"datum.r*sin(datum.a*PI/180)","as":"y"}],"mark":{"type":"line","interpolate":"linear-closed","stroke":"#d9d9d9","strokeWidth":1},"encoding":{"detail":{"field":"v","type":"nominal"},"order":{"field":"a","type":"quantitative"}}},
{"data":{"name":"ring"},"transform":[{"filter":"datum.v==1"},{"calculate":"-cos(datum.a*PI/180)","as":"x"},{"calculate":"sin(datum.a*PI/180)","as":"y"}],"mark":{"type":"rule","stroke":"#c4d79b","strokeWidth":1},"encoding":{"x2":{"datum":0},"y2":{"datum":0}}},
{"data":{"name":"ring"},"transform":[{"filter":"datum.v==1"},{"calculate":"-cos(datum.a*PI/180)","as":"x"},{"calculate":"sin(datum.a*PI/180)","as":"y"}],"mark":{"type":"line","interpolate":"linear-closed","stroke":"#000000","strokeWidth":1,"strokeDash":[3,2]},"encoding":{"order":{"field":"a","type":"quantitative"}}},
{"data":{"name":"ring"},"transform":[{"filter":"datum.v==1"},{"calculate":"-cos(datum.a*PI/180)","as":"x"},{"calculate":"sin(datum.a*PI/180)","as":"y"}],"mark":{"type":"text","font":"Lato","fontSize":18,"color":"#000000","baseline":"middle","align":{"expr":"datum.a==90||datum.a==270?'center':(datum.a<90||datum.a>270?'right':'left')"},"dx":{"expr":"datum.a==0?-3:datum.a==120?-5:datum.a==180?2:0"},"dy":{"expr":"datum.a==90?-17:datum.a==270?16:(datum.a==60||datum.a==120)?-3:(datum.a==240||datum.a==300)?2:0"}},"encoding":{"text":{"field":"a","type":"nominal"}}},
{"data":{"name":"rl"},"transform":[{"calculate":"(datum.v+0.2)/1.2","as":"y"},{"calculate":"0","as":"x"}],"mark":{"type":"text","font":"Lato","fontSize":18,"color":"#c00000","align":"right","baseline":"middle","dx":-25},"encoding":{"text":{"field":"t","type":"nominal"}}},
{"data":{"name":"pf"},"transform":[{"calculate":"(datum.v+0.2)/1.2","as":"r"},{"calculate":"-datum.r*cos(datum.a*PI/180)","as":"x"},{"calculate":"datum.r*sin(datum.a*PI/180)","as":"y"}],"mark":{"type":"line","interpolate":"linear-closed","strokeWidth":1.6},"encoding":{"color":{"field":"s","type":"nominal","scale":{"range":["#ff0000","#000000"]},"legend":null},"order":{"field":"a","type":"quantitative"}}},
{"data":{"name":"pf"},"transform":[{"calculate":"(datum.v+0.2)/1.2","as":"r"},{"calculate":"-datum.r*cos(datum.a*PI/180)","as":"x"},{"calculate":"datum.r*sin(datum.a*PI/180)","as":"y"}],"mark":{"type":"point","opacity":1,"size":28,"strokeWidth":1.3},"encoding":{
"stroke":{"field":"s","type":"nominal","scale":{"domain":["Exp.Ave.","Cal.Ave."],"range":["#000000","#ff0000"]},"legend":{"orient":"none","legendX":246,"legendY":23,"direction":"vertical","title":null,"padding":7,"rowPadding":14,"symbolSize":44,"symbolStrokeWidth":1.3,"labelFont":"Liberation Sans","labelFontSize":17,"labelColor":"#404040","labelOffset":5,"strokeColor":"#a6a6a6","fillColor":"#ffffff","symbolOpacity":1}},
"fill":{"field":"s","type":"nominal","scale":{"domain":["Exp.Ave.","Cal.Ave."],"range":["#ffffff","#ffffff"]},"legend":{"orient":"none","legendX":246,"legendY":23,"direction":"vertical","title":null,"padding":7,"rowPadding":14,"symbolSize":44,"symbolStrokeWidth":1.3,"labelFont":"Liberation Sans","labelFontSize":17,"labelColor":"#404040","labelOffset":5,"strokeColor":"#a6a6a6","fillColor":"#ffffff","symbolOpacity":1}},
"shape":{"field":"s","type":"nominal","scale":{"domain":["Exp.Ave.","Cal.Ave."],"range":["diamond","circle"]},"legend":{"orient":"none","legendX":246,"legendY":23,"direction":"vertical","title":null,"padding":7,"rowPadding":14,"symbolSize":44,"symbolStrokeWidth":1.3,"labelFont":"Liberation Sans","labelFontSize":17,"labelColor":"#404040","labelOffset":5,"strokeColor":"#a6a6a6","fillColor":"#ffffff","symbolOpacity":1}}}},
{"data":{"values":[{}]},"transform":[{"calculate":"-1.16","as":"x"},{"calculate":"1.322","as":"y"}],"mark":{"type":"text","text":"N","font":"Liberation Serif","fontStyle":"italic","fontSize":30,"color":"#c00000","align":"left","baseline":"alphabetic"}},
{"data":{"values":[{}]},"transform":[{"calculate":"-1.16","as":"x"},{"calculate":"1.322","as":"y"}],"mark":{"type":"text","text":"norm","font":"Liberation Serif","fontSize":22,"color":"#c00000","align":"left","baseline":"alphabetic","dx":22}},
{"data":{"values":[{}]},"transform":[{"calculate":"-1.287","as":"x"},{"calculate":"0.855","as":"y"}],"mark":{"type":"text","text":"θ","font":"Liberation Serif","fontStyle":"italic","fontSize":32,"color":"#000000","align":"center","baseline":"middle"}},
{"data":{"name":"arw"},"transform":[{"calculate":"(datum.px-8.5)/94","as":"x"},{"calculate":"(datum.py+4)/94","as":"y"}],"mark":{"type":"line","stroke":"#000000","strokeWidth":1.8,"clip":true},"encoding":{"detail":{"field":"g","type":"nominal"},"order":{"field":"o","type":"quantitative"}}},
{"data":{"values":[{}]},"transform":[{"calculate":"-1.032","as":"x"},{"calculate":"-1.593","as":"y"}],"mark":{"type":"text","text":"(","font":"Liberation Serif","fontSize":32,"color":"#000000","align":"left","baseline":"middle"}},
{"data":{"values":[{}]},"transform":[{"calculate":"-1.032","as":"x"},{"calculate":"-1.593","as":"y"}],"mark":{"type":"text","text":"f","font":"Liberation Serif","fontWeight":"bold","fontSize":32,"color":"#000000","align":"left","baseline":"middle","dx":10.7}},
{"data":{"values":[{}]},"transform":[{"calculate":"-1.032","as":"x"},{"calculate":"-1.593","as":"y"}],"mark":{"type":"text","text":") 3IR: Ave.","font":"Liberation Serif","fontSize":32,"color":"#000000","align":"left","baseline":"middle","dx":21.3}}
]}
],"spacing":0,"bounds":"flush","resolve":{"scale":{"stroke":"independent","fill":"independent","shape":"independent","color":"independent"},"legend":{"stroke":"independent","fill":"independent","shape":"independent","color":"independent"}}}
]
}
